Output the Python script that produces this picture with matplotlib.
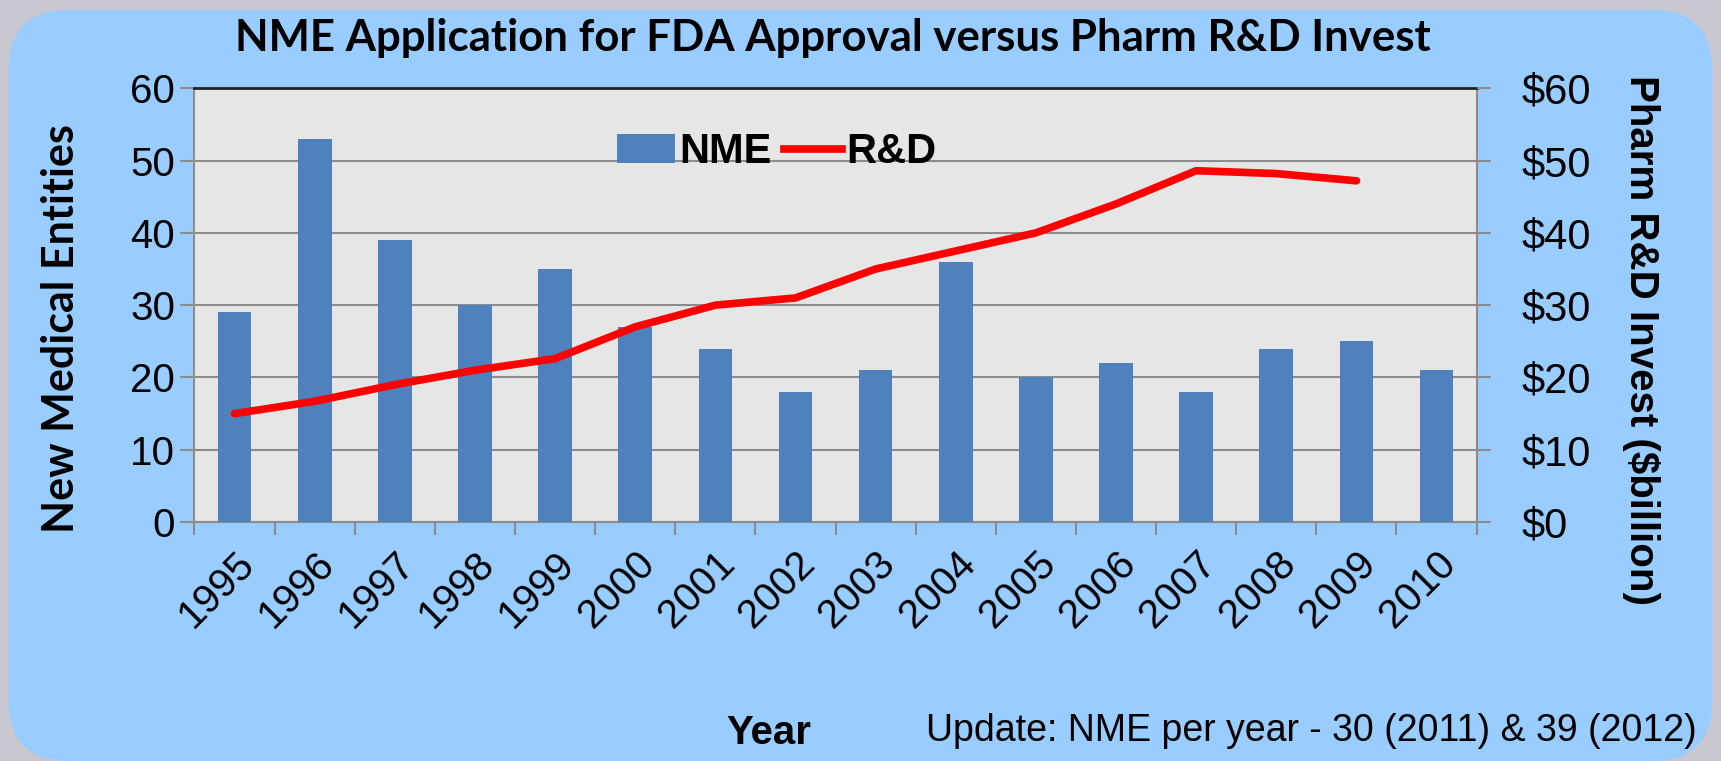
import matplotlib.pyplot as plt
from matplotlib.patches import FancyBboxPatch
from matplotlib.lines import Line2D
from matplotlib.patches import Patch
import numpy as np

years = ['1995', '1996', '1997', '1998', '1999', '2000', '2001', '2002',
         '2003', '2004', '2005', '2006', '2007', '2008', '2009', '2010']
nme = [29, 53, 39, 30, 35, 27, 24, 18, 21, 36, 20, 22, 18, 24, 25, 21]
rd_years = years[:15]
rd_invest = [15, 16.7, 19, 21, 22.6, 27, 30, 31, 35, 37.5, 40, 44, 48.6, 48.2, 47.2]

BLUE_BG = '#99CCFF'
BAR = '#4F81BD'


def main():
    fig = plt.figure(figsize=(17.21, 7.61), dpi=100)
    fig.patch.set_facecolor('#C9C8D0')
    panel = FancyBboxPatch((0.005, 0.0), 0.99, 0.987,
                           boxstyle='round,pad=0,rounding_size=0.035',
                           transform=fig.transFigure, facecolor=BLUE_BG,
                           edgecolor='none', mutation_aspect=17.21 / 7.61,
                           zorder=-10)
    fig.patches.append(panel)

    ax = fig.add_axes([0.113, 0.314, 0.745, 0.570])
    ax.set_facecolor('#E6E6E6')
    x = np.arange(len(years))
    ax.bar(x, nme, width=0.42, color=BAR, zorder=3)
    ax.set_xlim(-0.5, len(years) - 0.5)
    ax.set_ylim(0, 60)
    ax.set_yticks(range(0, 61, 10))
    ax.grid(axis='y', color='#8C8C8C', linewidth=1.5, zorder=1)
    ax.set_xticks(x)
    ax.set_xticklabels(years, rotation=45, ha='right', rotation_mode='anchor',
                       fontsize=29, family='Liberation Sans')
    ax.set_xticks(np.arange(-0.5, len(years)), minor=True)
    ax.tick_params(axis='x', which='major', length=0, pad=16)
    ax.tick_params(axis='x', which='minor', length=9, color='#8C8C8C', width=1.5)
    ax.tick_params(axis='y', length=10, color='#8C8C8C', width=1.5,
                   labelsize=29, pad=4)
    for lab in ax.get_yticklabels():
        lab.set_family('Liberation Sans')
    for side in ['left', 'right', 'bottom']:
        ax.spines[side].set_color('#8C8C8C')
        ax.spines[side].set_linewidth(1.5)
    ax.spines['top'].set_color('#222222')
    ax.spines['top'].set_linewidth(2)
    ax.set_ylabel('New Medical Entities', fontsize=31, fontweight='bold',
                  family='Lato', va='center', ha='center')
    ax.yaxis.set_label_coords(-0.104, 0.445)

    ax2 = ax.twinx()
    ax2.plot(np.arange(len(rd_years)), rd_invest, color='#FF0000', linewidth=5.5,
             solid_capstyle='round', solid_joinstyle='round', zorder=4)
    ax2.set_ylim(0, 60)
    ax2.set_yticks(range(0, 61, 10))
    ax2.set_yticklabels(['$%d' % v for v in range(0, 61, 10)],
                        family='Liberation Sans', fontsize=30)
    ax2.tick_params(axis='y', length=10, color='#8C8C8C', width=1.5, pad=22)
    for spine in ax2.spines.values():
        spine.set_visible(False)
    ax2.set_ylabel('Pharm R&D Invest ($billion)', fontsize=29, fontweight='bold',
                   family='Liberation Sans', rotation=-90, va='center', ha='center')
    ax2.yaxis.set_label_coords(1.128, 0.42)

    handles = [Patch(facecolor=BAR), Line2D([0], [0], color='#FF0000', linewidth=5.5)]
    ax2.legend(handles, ['NME', 'R&D'], loc='upper left', bbox_to_anchor=(0.3, 0.985),
               ncol=2, frameon=False, handlelength=1.4, handletextpad=0.1,
               columnspacing=0.3,
               prop={'family': 'Liberation Sans', 'weight': 'bold', 'size': 30})

    fig.text(0.484, 0.95, 'NME Application for FDA Approval versus Pharm R&D Invest',
             ha='center', va='center', fontsize=31.5, fontweight='bold', family='Lato')
    fig.text(0.447, 0.037, 'Year', ha='center', va='center', fontsize=29,
             fontweight='bold', family='Liberation Sans')
    fig.text(0.986, 0.039, 'Update: NME per year - 30 (2011) & 39 (2012)',
             ha='right', va='center', fontsize=27, family='Liberation Sans')

    fig.savefig('out.png', dpi=100, facecolor=fig.get_facecolor())


if __name__ == '__main__':
    main()
